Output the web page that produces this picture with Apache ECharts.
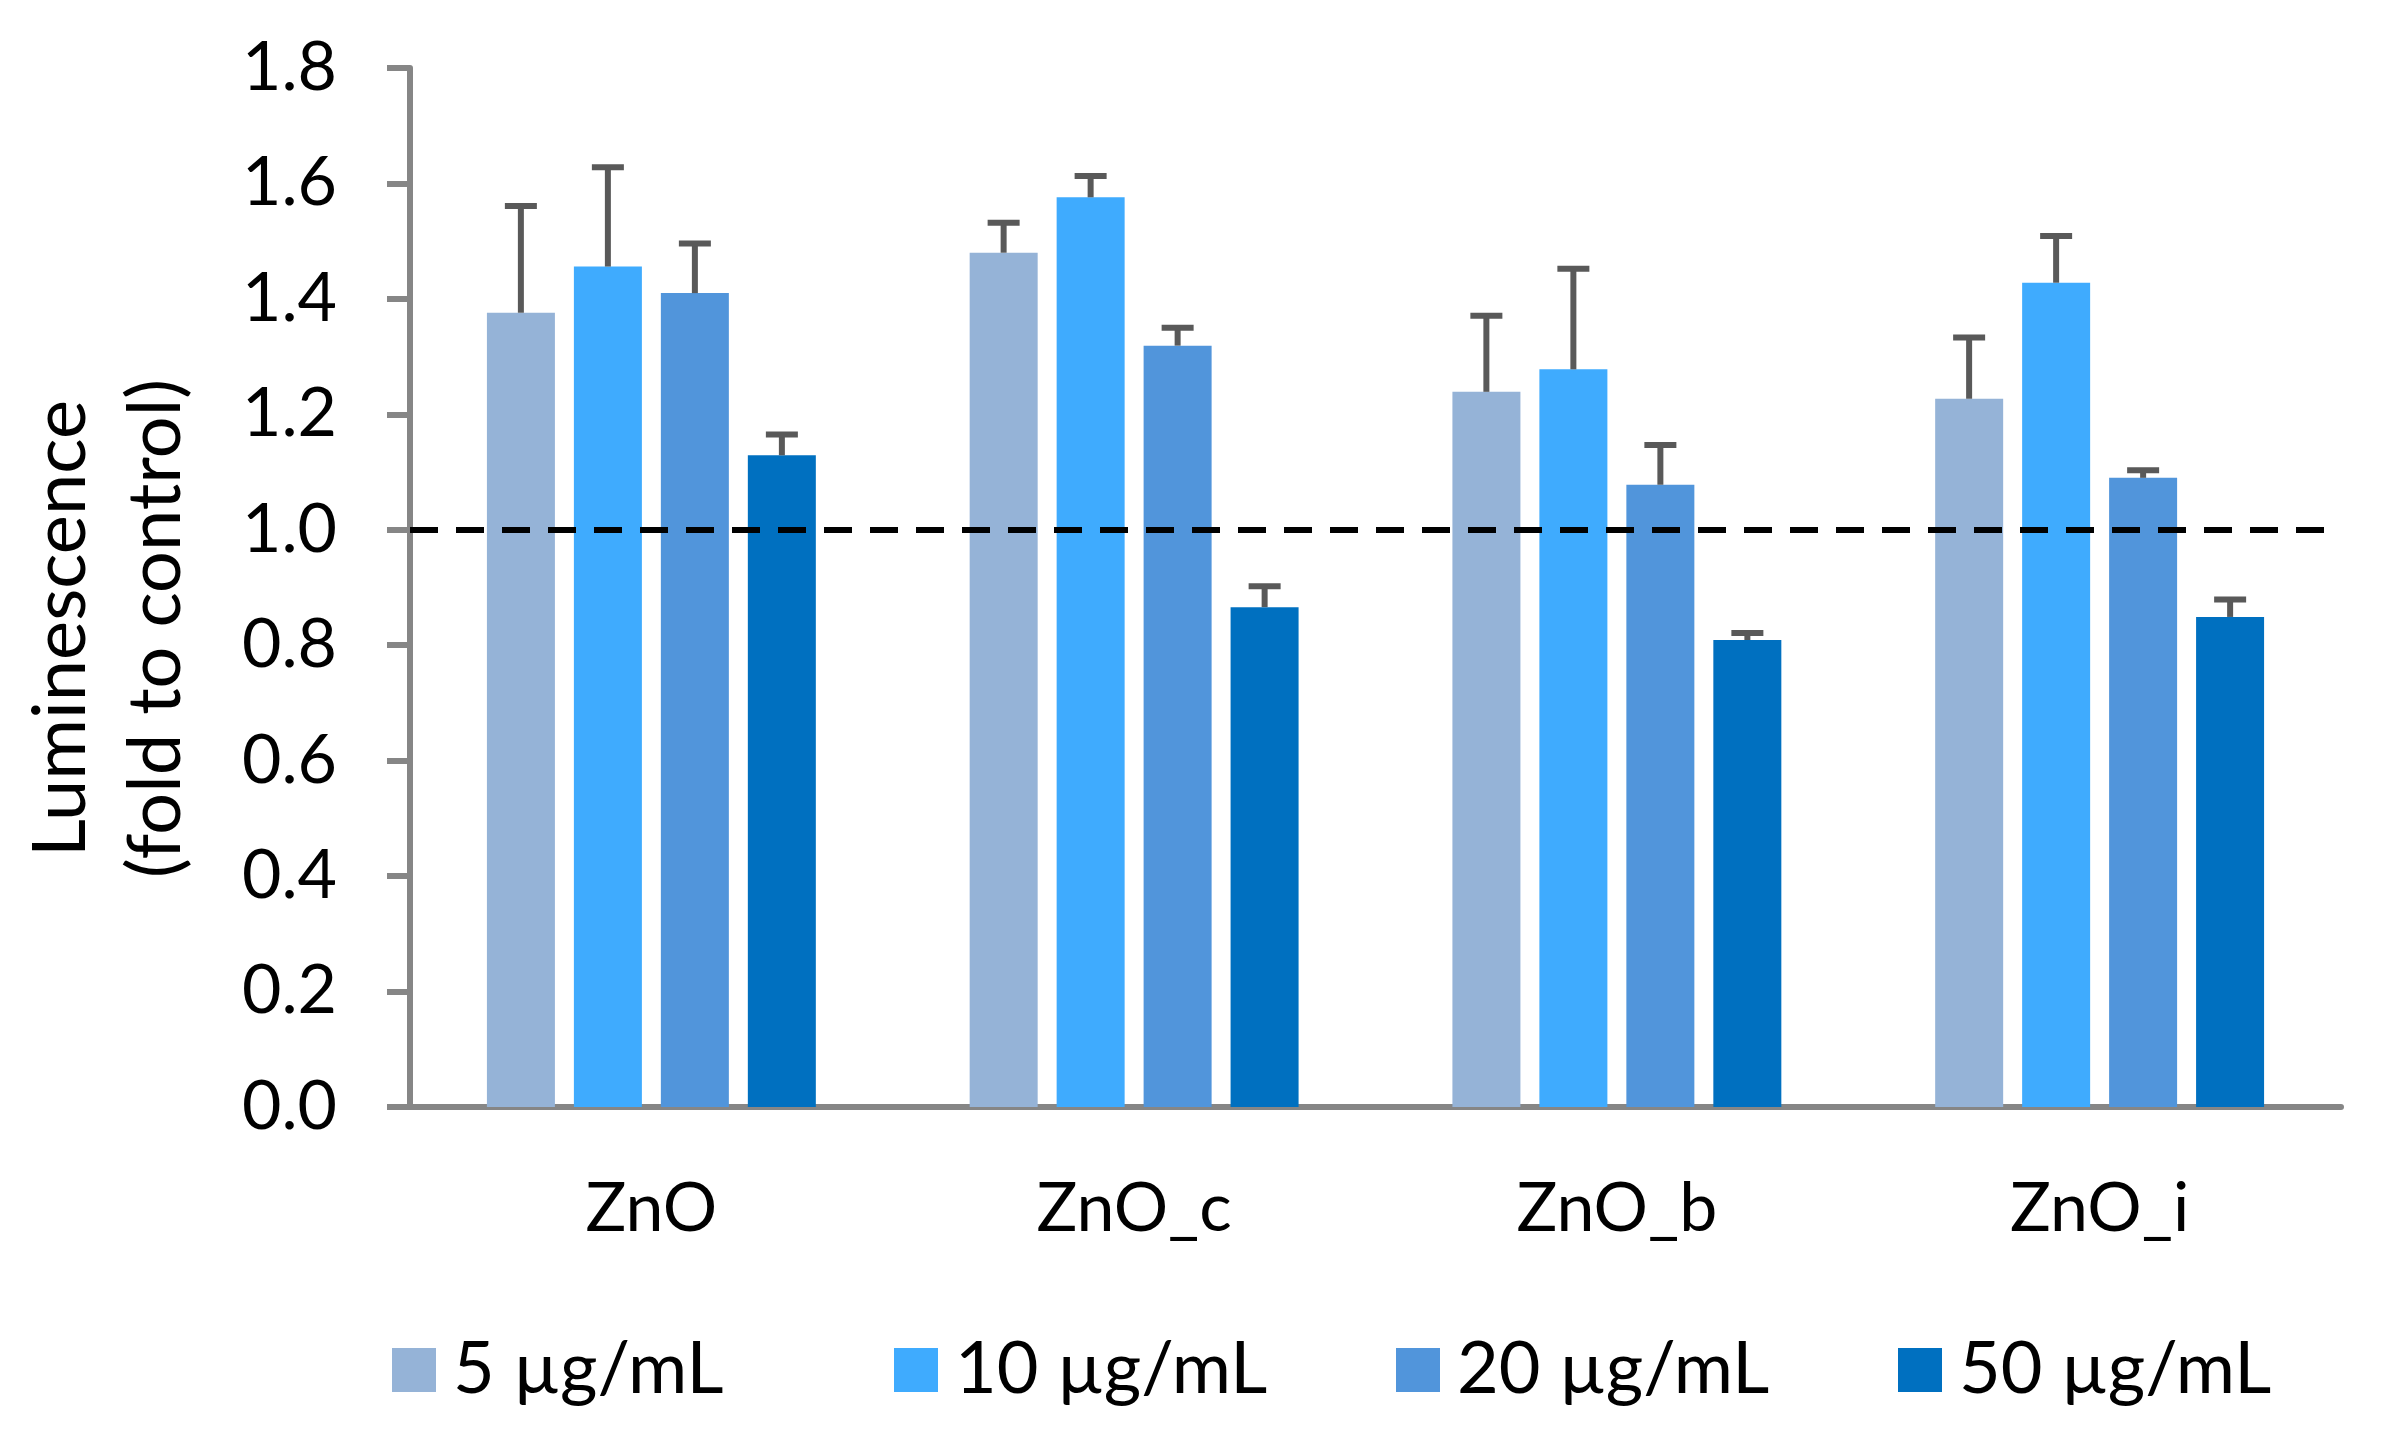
<!DOCTYPE html>
<html>
<head>
<meta charset="utf-8">
<title>Luminescence</title>
<script src="https://cdn.jsdelivr.net/npm/echarts@6/dist/echarts.min.js"></script>
<style>
  html, body { margin: 0; padding: 0; background: #fff; }
  #chart { width: 2384px; height: 1430px; }
</style>
</head>
<body>
<div id="chart"></div>
<script>
  // data
  var categories = ['ZnO', 'ZnO_c', 'ZnO_b', 'ZnO_i'];
  var seriesNames = ['5 µg/mL', '10 µg/mL', '20 µg/mL', '50 µg/mL'];
  var yTicks = [0, 0.2, 0.4, 0.6, 0.8, 1.0, 1.2, 1.4, 1.6, 1.8];

  var mean5 = [1.376, 1.480, 1.239, 1.227];
  var mean10 = [1.456, 1.576, 1.278, 1.428];
  var mean20 = [1.410, 1.319, 1.078, 1.090];
  var mean50 = [1.129, 0.866, 0.809, 0.849];

  // upper error (SD)
  var err5 = [0.185, 0.052, 0.132, 0.106];
  var err10 = [0.172, 0.037, 0.174, 0.081];
  var err20 = [0.086, 0.031, 0.069, 0.013];
  var err50 = [0.036, 0.036, 0.012, 0.030];

  var controlLevel = 1.0;

  var colors = ['#95B3D7', '#3FABFE', '#5195DB', '#0070C0'];
  var means = [mean5, mean10, mean20, mean50];
  var errs = [err5, err10, err20, err50];

  var FONT = 'Lato';
  var barWidth = 68;
  var barGapPx = 19;

  var chart = echarts.init(document.getElementById('chart'));

  var series = [];
  means.forEach(function (m, i) {
    var s = {
      name: seriesNames[i],
      type: 'bar',
      barWidth: barWidth,
      barGap: (barGapPx / barWidth * 100).toFixed(1) + '%',
      itemStyle: { color: colors[i] },
      data: m,
      z: 2
    };
    if (i === 0) {
      // dashed control line at 1.0
      s.markLine = {
        silent: true,
        symbol: 'none',
        label: { show: false },
        lineStyle: { color: '#000', type: [28, 18], width: 6 },
        data: [{ yAxis: controlLevel }],
        z: 5
      };
    }
    series.push(s);
  });

  // error bars (upper only)
  errs.forEach(function (e, i) {
    var offset = (i - 1.5) * (barWidth + barGapPx);
    series.push({
      name: seriesNames[i] + ' SD',
      type: 'custom',
      z: 3,
      silent: true,
      data: e.map(function (v, k) {
        return [k, means[i][k], means[i][k] + v];
      }),
      renderItem: function (params, api) {
        var base = api.coord([api.value(0), api.value(1)]);
        var top = api.coord([api.value(0), api.value(2)]);
        var x = base[0] + offset;
        var capHalf = 16;
        var st = { stroke: '#595959', lineWidth: 6 };
        return {
          type: 'group',
          children: [
            { type: 'line', shape: { x1: x, y1: base[1], x2: x, y2: top[1] }, style: st },
            { type: 'line', shape: { x1: x - capHalf, y1: top[1], x2: x + capHalf, y2: top[1] }, style: st }
          ]
        };
      }
    });
  });

  var option = {
    animation: false,
    backgroundColor: '#fff',
    textStyle: { fontFamily: FONT },
    grid: {
      left: 410,
      right: 43,
      top: 68,
      bottom: 323
    },
    legend: {
      data: seriesNames,
      left: 387,
      top: 1329,
      icon: 'rect',
      itemWidth: 44,
      itemHeight: 44,
      itemGap: 25,
      selectedMode: false,
      textStyle: {
        fontFamily: FONT,
        fontSize: 72,
        color: '#000',
        width: 416,
        lineHeight: 44,
        padding: [0, 0, 0, 12]
      }
    },
    xAxis: {
      type: 'category',
      data: categories,
      axisLine: { lineStyle: { color: '#868686', width: 6 } },
      axisTick: { show: false },
      axisLabel: {
        fontFamily: FONT,
        fontSize: 68,
        color: '#000',
        margin: 68
      }
    },
    yAxis: {
      type: 'value',
      min: yTicks[0],
      max: yTicks[yTicks.length - 1],
      interval: 0.2,
      name: 'Luminescence\n(fold to control)',
      nameLocation: 'middle',
      nameGap: 206,
      nameTextStyle: {
        fontFamily: FONT,
        fontSize: 74,
        color: '#000',
        lineHeight: 95,
        padding: [0, 82, 0, 0]
      },
      splitLine: { show: false },
      axisLine: { show: true, lineStyle: { color: '#868686', width: 6 } },
      axisTick: { show: true, length: 23, lineStyle: { color: '#868686', width: 6 } },
      axisLabel: {
        fontFamily: FONT,
        fontSize: 68,
        color: '#000',
        margin: 73,
        formatter: function (v) { return v.toFixed(1); }
      }
    },
    series: series
  };

  chart.setOption(option);
</script>
</body>
</html>
